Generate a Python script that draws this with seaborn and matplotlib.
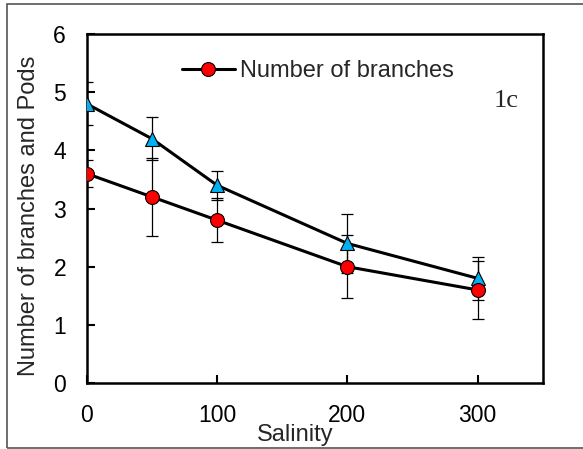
import matplotlib
matplotlib.use("Agg")
import matplotlib.pyplot as plt
import seaborn as sns
import pandas as pd
from matplotlib.patches import Rectangle

salinity = [0, 50, 100, 200, 300]
branches = [3.6, 3.2, 2.8, 2.0, 1.6]
branches_err = [0.23, 0.67, 0.38, 0.54, 0.5]
pods = [4.8, 4.2, 3.4, 2.4, 1.8]
pods_err = [0.37, 0.37, 0.25, 0.5, 0.37]
x_ticks = [0, 100, 200, 300]
y_ticks = [0, 1, 2, 3, 4, 5, 6]

sns.set_theme(style="white")
plt.rcParams['font.family'] = ['Liberation Sans', 'DejaVu Sans']

fig = plt.figure(figsize=(5.83, 4.49), dpi=100)
ax = fig.add_axes([0.149, 0.147, 0.782, 0.777])

df_b = pd.DataFrame({"x": salinity, "y": branches})
df_p = pd.DataFrame({"x": salinity, "y": pods})

ax.errorbar(salinity, pods, yerr=pods_err, fmt='none', ecolor='black',
            elinewidth=0.9, capsize=4.3, capthick=0.9, zorder=2)
ax.errorbar(salinity, branches, yerr=branches_err, fmt='none', ecolor='black',
            elinewidth=0.9, capsize=4.3, capthick=0.9, zorder=2)

sns.lineplot(data=df_p, x="x", y="y", ax=ax, color='black', lw=2.2,
             marker='^', markersize=10, markerfacecolor='#00B0F0',
             markeredgecolor='black', markeredgewidth=0.8, zorder=3,
             label='_nolegend_')
sns.lineplot(data=df_b, x="x", y="y", ax=ax, color='black', lw=2.2,
             marker='o', markersize=10, markerfacecolor='#FF0000',
             markeredgecolor='black', markeredgewidth=0.8, zorder=4,
             label='Number of branches')

ax.set_xlim(0, 350)
ax.set_ylim(0, 6)
ax.set_xticks(x_ticks)
ax.set_yticks(y_ticks)
ax.tick_params(direction='in', length=6, width=1.5, colors='black',
               labelsize=16.5, pad=15, left=True, bottom=True)
for s in ax.spines.values():
    s.set_color('black')
    s.set_linewidth(1.8)

ax.set_xlabel('Salinity', fontsize=17)
ax.xaxis.set_label_coords(0.458, -0.149)
ax.xaxis.label.set_va('center')
ax.set_ylabel('Number of branches and Pods', fontsize=17)
ax.yaxis.set_label_coords(-0.127, 0.478)
ax.yaxis.label.set_va('center')

leg = ax.legend(loc='center left', bbox_to_anchor=(0.208, 0.894), frameon=False,
                fontsize=17, handlelength=2.25, handletextpad=0.2,
                borderpad=0, borderaxespad=0)

ax.text(0.947, 0.808, '1c', transform=ax.transAxes, fontsize=19,
        family='Liberation Serif', ha='right', va='center')

fig.patches.append(Rectangle((7/583, 1/449), 1.0, 444/449, transform=fig.transFigure,
                             fill=False, edgecolor='#555555', lw=1.2))

fig.savefig('out.png', dpi=100)
